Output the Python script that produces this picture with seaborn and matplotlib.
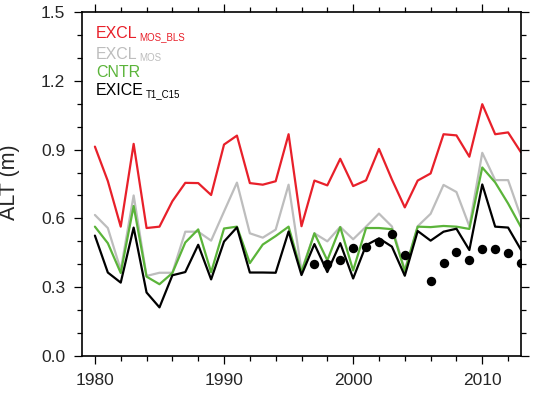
import numpy as np
import pandas as pd
import matplotlib
matplotlib.use("Agg")
import matplotlib.pyplot as plt
import seaborn as sns
from matplotlib.ticker import MultipleLocator
from matplotlib.transforms import offset_copy

years = list(range(1980, 2014))
excl_mos_bls = [0.913, 0.763, 0.564, 0.925, 0.558, 0.564, 0.675, 0.755, 0.754, 0.702,
                0.922, 0.961, 0.754, 0.747, 0.762, 0.967, 0.566, 0.765, 0.744, 0.860,
                0.741, 0.766, 0.903, 0.770, 0.648, 0.765, 0.796, 0.967, 0.962, 0.869,
                1.098, 0.967, 0.975, 0.888]
excl_mos = [0.615, 0.558, 0.375, 0.700, 0.349, 0.363, 0.363, 0.542, 0.542, 0.503,
            0.630, 0.756, 0.535, 0.516, 0.551, 0.747, 0.372, 0.535, 0.500, 0.563,
            0.509, 0.564, 0.621, 0.565, 0.375, 0.566, 0.620, 0.746, 0.715, 0.566,
            0.886, 0.767, 0.767, 0.606]
cntr = [0.564, 0.492, 0.362, 0.654, 0.346, 0.313, 0.362, 0.495, 0.552, 0.365,
        0.556, 0.564, 0.405, 0.486, 0.523, 0.564, 0.365, 0.535, 0.417, 0.562,
        0.373, 0.558, 0.558, 0.553, 0.370, 0.564, 0.562, 0.567, 0.564, 0.554,
        0.822, 0.757, 0.665, 0.562]
exice = [0.525, 0.364, 0.320, 0.560, 0.277, 0.212, 0.352, 0.366, 0.485, 0.334,
         0.499, 0.561, 0.364, 0.364, 0.363, 0.543, 0.353, 0.488, 0.366, 0.492,
         0.338, 0.483, 0.513, 0.477, 0.350, 0.545, 0.503, 0.542, 0.555, 0.462,
         0.748, 0.564, 0.560, 0.463]
obs_years = [1997, 1998, 1999, 2000, 2001, 2002, 2003, 2004,
             2006, 2007, 2008, 2009, 2010, 2011, 2012, 2013]
obs_alt = [0.401, 0.401, 0.418, 0.472, 0.474, 0.498, 0.532, 0.440,
           0.327, 0.405, 0.452, 0.418, 0.466, 0.467, 0.448, 0.405]

series = [
    ("EXCL", "MOS_BLS", excl_mos_bls, "#e8202a"),
    ("EXCL", "MOS", excl_mos, "#bdbdbd"),
    ("CNTR", None, cntr, "#5bb43a"),
    ("EXICE", "T1_C15", exice, "#000000"),
]

sns.set_theme(style="ticks")
plt.rcParams['font.family'] = ['Liberation Sans', 'DejaVu Sans']

fig = plt.figure(figsize=(5.33, 3.94), dpi=100)
ax = fig.add_axes([82/533, 1-356/394, (521-82)/533, (356-12)/394])

order = [1, 0, 2, 3]
for i in order:
    name, sub, vals, col = series[i]
    df = pd.DataFrame({"year": years, "alt": vals})
    sns.lineplot(data=df, x="year", y="alt", color=col, linewidth=1.6, ax=ax)

dfo = pd.DataFrame({"year": obs_years, "alt": obs_alt})
sns.scatterplot(data=dfo, x="year", y="alt", color="black", s=46, edgecolor="black",
                linewidth=0, ax=ax, zorder=5)

ax.set_xlim(1979, 2013)
ax.set_ylim(0, 1.5)
ax.xaxis.set_major_locator(MultipleLocator(10))
ax.xaxis.set_minor_locator(MultipleLocator(2))
ax.yaxis.set_major_locator(MultipleLocator(0.3))
ax.yaxis.set_minor_locator(MultipleLocator(0.1))
ax.set_yticks(ax.get_yticks())
ax.set_yticklabels([f"{v:.1f}" for v in ax.get_yticks()])
ax.set_ylim(0, 1.5)
ax.tick_params(which="both", direction="out", top=True, right=True,
               labeltop=False, labelright=False, width=0.9, color="black")
ax.tick_params(which="major", length=6, labelsize=12.5, pad=6)
ax.tick_params(which="minor", length=3.5)
for sp in ax.spines.values():
    sp.set_linewidth(1.2)
    sp.set_color("black")
ax.set_xlabel("")
ax.set_ylabel("")
fig.text(9.5/533, 1-182.5/394, "ALT (m)", rotation=90, ha="center", va="center",
         fontsize=15.5)

ys = [0.9235, 0.862, 0.810, 0.759]
fig.canvas.draw()
renderer = fig.canvas.get_renderer()
for (name, sub, vals, col), y in zip(series, ys):
    t = ax.text(0.032, y, name, transform=ax.transAxes, color=col,
                fontsize=11.5, va="baseline", ha="left")
    if sub is not None:
        bb = t.get_window_extent(renderer=renderer)
        x_ax = ax.transAxes.inverted().transform((bb.x1 + 2, 0))[0]
        tr = offset_copy(ax.transAxes, fig=fig, x=0, y=-2, units="dots")
        ax.text(x_ax, y, sub, transform=tr, color=col, fontsize=7,
                va="baseline", ha="left")

fig.savefig("out.png", dpi=100)
